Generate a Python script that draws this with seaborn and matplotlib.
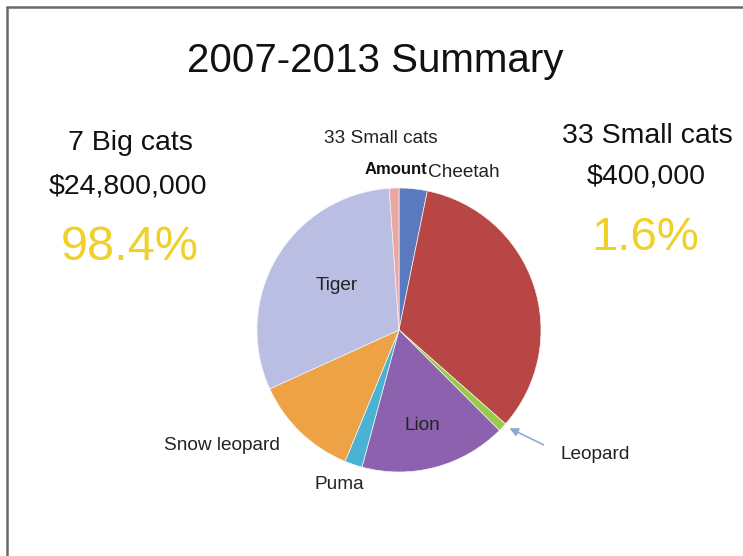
import matplotlib
matplotlib.use("Agg")
import matplotlib.pyplot as plt
import seaborn as sns
from matplotlib.lines import Line2D

# ---- data ----
species = ["Cheetah", "Jaguar", "Leopard", "Lion", "Puma", "Snow leopard", "Tiger", "33 Small cats"]
share = [3.2, 33.3, 1.0, 16.7, 2.0, 12.0, 30.7, 1.1]
colors = ["#5b79bf", "#b84644", "#96cc4a", "#8c62ae", "#4ab2d2", "#eca245", "#b9bee2", "#eaa6a3"]

title = "2007-2013 Summary"
big_lines = ["7 Big cats", "$24,800,000", "98.4%"]
small_lines = ["33 Small cats", "$400,000", "1.6%"]

sns.set_theme(style="white")
plt.rcParams['font.family'] = ['Liberation Sans', 'DejaVu Sans']

W, H = 743, 556
fig = plt.figure(figsize=(W / 100, H / 100), dpi=100)
fig.patch.set_facecolor("white")

def fx(x):
    return x / W

def fy(y):
    return 1 - y / H

# pie axes: center (399, 330), radius 142 px
cx, cy, r = 399, 330, 142
ax = fig.add_axes([fx(cx - r), fy(cy + r), 2 * r / W, 2 * r / H])
pal = sns.color_palette(colors)
ax.pie(share, colors=pal, startangle=90, counterclock=False,
       wedgeprops=dict(linewidth=0.5, edgecolor="#f4f4f4"))
ax.set_xlim(-1, 1)
ax.set_ylim(-1, 1)
ax.axis("off")

# frame lines (slide border)
fig.add_artist(Line2D([fx(7), 1], [fy(7), fy(7)], color="#6b6b6b", lw=1.8))
fig.add_artist(Line2D([fx(7.5), fx(7.5)], [fy(7), 0], color="#6b6b6b", lw=1.8))

# title
fig.text(fx(375), fy(72), title, ha="center", va="baseline", fontsize=29, color="#111111")

# side texts
yellow = "#efd12a"
fig.text(fx(130), fy(150), big_lines[0], ha="center", va="baseline", fontsize=20.5, color="#111111")
fig.text(fx(128), fy(193), big_lines[1], ha="center", va="baseline", fontsize=20.5, color="#111111")
fig.text(fx(130), fy(260), big_lines[2], ha="center", va="baseline", fontsize=35, color=yellow)
fig.text(fx(647), fy(143), small_lines[0], ha="center", va="baseline", fontsize=20.5, color="#111111")
fig.text(fx(646), fy(184), small_lines[1], ha="center", va="baseline", fontsize=20.5, color="#111111")
fig.text(fx(645), fy(250), small_lines[2], ha="center", va="baseline", fontsize=34, color=yellow)

# pie labels
lab = dict(ha="center", va="baseline", fontsize=13.7, color="#222222")
fig.text(fx(381), fy(143), "33 Small cats", **lab)
fig.text(fx(396), fy(174), "Amount", ha="center", va="baseline", fontsize=12,
         fontweight="bold", color="#111111")
fig.text(fx(464), fy(177), "Cheetah", **lab)
fig.text(fx(337), fy(290), "Tiger", **lab)
fig.text(fx(422), fy(430), "Lion", **lab)
fig.text(fx(222), fy(450), "Snow leopard", **lab)
fig.text(fx(339), fy(489), "Puma", **lab)
fig.text(fx(595), fy(459), "Leopard", **lab)

fig.add_artist(matplotlib.patches.FancyArrowPatch(
    (fx(546), fy(446)), (fx(507), fy(427)), transform=fig.transFigure,
    arrowstyle="-|>,head_length=5,head_width=2.5", color="#8eaad2", lw=1.2))

fig.savefig("out.png", dpi=100, facecolor="white")
